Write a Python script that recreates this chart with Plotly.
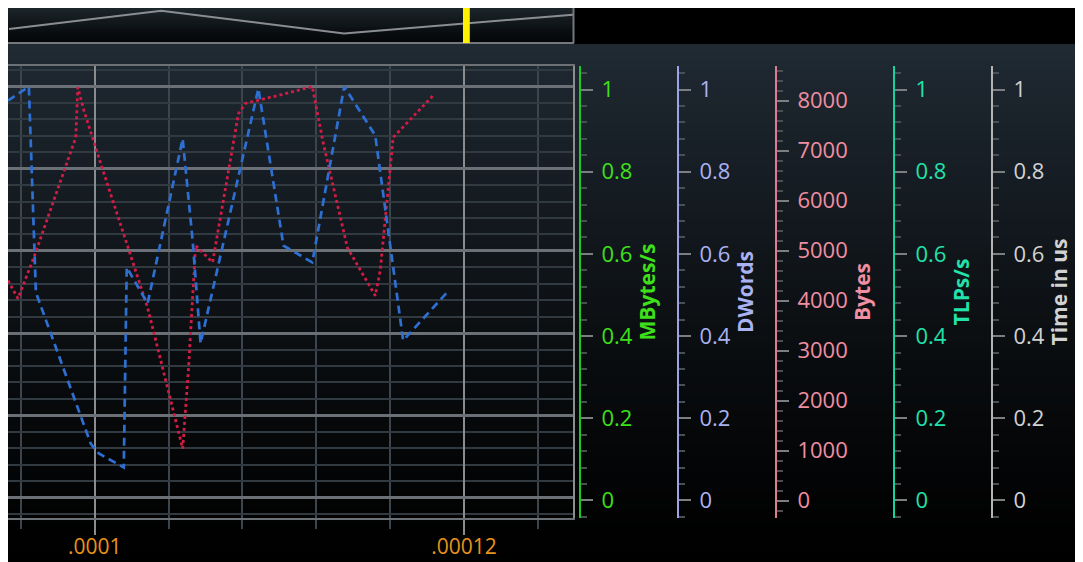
import plotly.graph_objects as go

# ---------------- data ----------------
blue_t = [0.0000953, 0.00009643, 0.00009681, 0.00009978, 0.00010022, 0.00010157,
          0.00010173, 0.00010286, 0.00010476, 0.00010530, 0.00010573, 0.00010886,
          0.00011022, 0.00011114, 0.00011178, 0.00011351, 0.00011519, 0.00011670,
          0.00011908]
blue_v = [0.966, 1.0, 0.499, 0.131, 0.107, 0.073, 0.560, 0.472, 0.873, 0.625,
          0.375, 0.995, 0.613, 0.589, 0.572, 1.0, 0.881, 0.382, 0.499]

red_t = [0.0000953, 0.00009584, 0.00009670, 0.00009816, 0.00009897, 0.00009908,
         0.00009941, 0.00010032, 0.00010157, 0.00010286, 0.00010476, 0.00010508,
         0.00010546, 0.00010638, 0.00010778, 0.00010816, 0.00010989, 0.00011178,
         0.00011238, 0.00011368, 0.00011519, 0.00011546, 0.00011616, 0.00011832]
red_v = [0.528, 0.484, 0.584, 0.771, 0.876, 0.998, 0.942, 0.813, 0.642, 0.462,
         0.119, 0.316, 0.613, 0.572, 0.934, 0.959, 0.978, 1.0, 0.861, 0.608,
         0.491, 0.552, 0.876, 0.978]

x_tickvals = [0.0001, 0.00012]
x_ticktext = [".0001", ".00012"]

nav_x = [0.0, 0.27, 0.594, 1.0]
nav_y = [0.40, 0.92, 0.27, 0.81]
nav_marker = [0.805, 0.817]

axis_titles = ["MBytes/s", "DWords", "Bytes", "TLPs/s", "Time in us"]
axis_ranges = [[-0.0427, 1.0573], [-0.0427, 1.0573], [-350, 8690],
               [-0.0427, 1.0573], [-0.0427, 1.0573]]
axis_dticks = [0.2, 0.2, 1000, 0.2, 0.2]
axis_minor = [0.04, 0.04, 200, 0.04, 0.04]

# ---------------- layout helpers ----------------
OX, OY = 8, 8          # page body margin
W, H = 1075, 554
def px(x):
    return (x - OX) / W
def py(y):
    return min(1.0, max(0.0, 1 - (y - OY) / H))

axis_pos = [580, 678, 776, 894, 992]
line_cols = ["#1ec81e", "#9aa4e6", "#df7c92", "#12d49c", "#b4b4b4"]
lab_cols = ["#3ee01a", "#aab2f2", "#f08ea2", "#22e2aa", "#d2d2d2"]

FONT = "Open Sans"

fig = go.Figure()

fig.add_trace(go.Scatter(x=red_t, y=red_v, mode="lines", xaxis="x", yaxis="y",
                         line=dict(color="#d21c46", width=2.8, dash="dot"),
                         hoverinfo="skip", showlegend=False))
fig.add_trace(go.Scatter(x=blue_t, y=blue_v, mode="lines", xaxis="x", yaxis="y",
                         line=dict(color="#2e6fd2", width=2.7, dash="8px,5px"),
                         hoverinfo="skip", showlegend=False))
fig.add_trace(go.Scatter(x=nav_x, y=nav_y, mode="lines", xaxis="x2", yaxis="y7",
                         line=dict(color="#8a8e92", width=2),
                         hoverinfo="skip", showlegend=False))
# empty traces so that each side axis is registered and drawn
for i in range(5):
    fig.add_trace(go.Scatter(x=[None], y=[None], mode="lines", xaxis="x",
                             yaxis="y%d" % (i + 2), hoverinfo="skip", showlegend=False))

shapes = []
# background gradient (figure)
y0, y1 = 44, 570
n = 60
top = (32, 42, 51)
step = (y1 - y0) / n
for i in range(n):
    a = y0 + step * i
    b = a + step + 1.5
    t = (i + 0.5) / n
    f = (1 - t) ** 1.3
    c = tuple(int(round(v * f)) for v in top)
    shapes.append(dict(type="rect", xref="paper", yref="paper", x0=0, x1=1,
                       y0=py(b), y1=py(a), fillcolor="rgb(%d,%d,%d)" % c,
                       line=dict(width=0), layer="below"))
# navigator gradient
ntop = (30, 40, 46)
nn = 14
nstep = (43 - 6) / nn
for i in range(nn):
    a = 6 + nstep * i
    b = min(43, a + nstep + 1.0)
    t = (i + 0.5) / nn
    f = (1 - t) ** 1.1 * 0.88 + 0.12
    c = tuple(int(round(v * f)) for v in ntop)
    shapes.append(dict(type="rect", xref="paper", yref="paper", x0=0, x1=px(573),
                       y0=py(b), y1=py(a), fillcolor="rgb(%d,%d,%d)" % c,
                       line=dict(width=0), layer="below"))
# black top-right block
shapes.append(dict(type="rect", xref="paper", yref="paper", x0=px(573), x1=1,
                   y0=py(44), y1=1, fillcolor="#000000", line=dict(width=0), layer="below"))
# navigator border (bottom + right)
shapes.append(dict(type="line", xref="paper", yref="paper", x0=0, x1=px(574),
                   y0=py(43), y1=py(43), line=dict(color="#74787c", width=2), layer="above"))
shapes.append(dict(type="line", xref="paper", yref="paper", x0=px(573.5), x1=px(573.5),
                   y0=py(43), y1=1, line=dict(color="#74787c", width=2), layer="above"))
# navigator selection marker
shapes.append(dict(type="rect", xref="x2", yref="paper", x0=nav_marker[0], x1=nav_marker[1],
                   y0=py(43), y1=1, fillcolor="#fff200", line=dict(width=0), layer="above"))

layout = dict(
    width=W, height=H,
    margin=dict(l=0, r=0, t=0, b=0),
    paper_bgcolor="#000000",
    plot_bgcolor="rgba(0,0,0,0)",
    showlegend=False,
    shapes=shapes,
    font=dict(family=FONT),
    xaxis=dict(domain=[0, px(573)], range=[0.0000953, 0.0001259], anchor="y",
               tickvals=x_tickvals, ticktext=x_ticktext,
               tickfont=dict(color="#e8931c", size=21, family=FONT),
               ticks="outside", ticklen=15, tickwidth=2, tickcolor="#8a8d90",
               ticklabelstandoff=-6,
               showgrid=True, gridcolor="#8a8d90", gridwidth=2,
               minor=dict(tick0=0.0001, dtick=0.000004, ticks="outside", ticklen=9,
                          tickwidth=2, tickcolor="#3c454d", showgrid=True,
                          gridcolor="#3c454d", gridwidth=2),
               showline=True, mirror=True, linecolor="#6c7176", linewidth=2,
               zeroline=False, automargin=False, fixedrange=True),
    yaxis=dict(domain=[py(518), py(66)], range=[-0.05, 1.05], anchor="x", side="right",
               tickvals=[0, 0.2, 0.4, 0.6, 0.8, 1.0], showticklabels=False, ticks="",
               showgrid=True, gridcolor="#6a7075", gridwidth=2.5,
               minor=dict(dtick=0.04, tick0=0, showgrid=True, gridcolor="#323a41", gridwidth=1.5),
               showline=True, linecolor="#8c8f92", linewidth=2,
               zeroline=False, automargin=False, fixedrange=True),
    xaxis2=dict(domain=[0, px(573)], range=[-1 / 566, 1], anchor="y7",
                visible=False, fixedrange=True),
    yaxis7=dict(domain=[py(43), 1], range=[0, 1], anchor="x2", visible=False,
                fixedrange=True),
)

for i in range(5):
    name = "yaxis%d" % (i + 2)
    layout[name] = dict(
        overlaying="y", anchor="free", side="right", position=px(axis_pos[i]),
        range=axis_ranges[i], dtick=axis_dticks[i], tick0=0,
        showgrid=False, zeroline=False,
        showline=True, linecolor=line_cols[i], linewidth=2,
        ticks="outside", ticklen=12, tickwidth=2, tickcolor="#7c7f82",
        ticklabelstandoff=4,
        tickfont=dict(color=lab_cols[i], size=22, family=FONT),
        minor=dict(dtick=axis_minor[i], tick0=0, ticks="outside", ticklen=6,
                   tickwidth=2, tickcolor="#4a4f54"),
        title=dict(text="<b>%s</b>" % axis_titles[i],
                   font=dict(color=lab_cols[i], size=21, family=FONT), standoff=4),
        automargin=False, fixedrange=True,
    )

fig.update_layout(**layout)
fig.write_html("out.html")
